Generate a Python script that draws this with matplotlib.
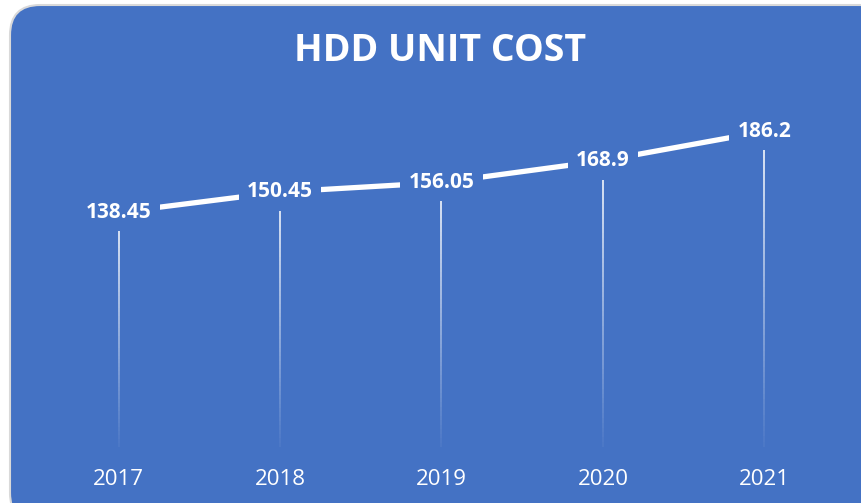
import numpy as np
import matplotlib.pyplot as plt
from matplotlib.patches import FancyBboxPatch
from matplotlib.collections import LineCollection

years = ['2017', '2018', '2019', '2020', '2021']
cost = [138.45, 150.45, 156.05, 168.9, 186.2]
value_labels = ['138.45', '150.45', '156.05', '168.9', '186.2']

blue = '#4472C4'

fig = plt.figure(figsize=(8.62, 5.03), dpi=100)
fig.patch.set_facecolor('white')

# fundo azul arredondado
W, H = 862, 503
bg = FancyBboxPatch((10 / W, -20 / H), 880 / W, (H - 5 + 20) / H,
                    boxstyle='round,pad=0,rounding_size=0.035',
                    transform=fig.transFigure, facecolor=blue,
                    edgecolor='#D9D9D9', linewidth=1.5, zorder=-5,
                    mutation_aspect=W / H)
fig.patches.append(bg)

ax = fig.add_axes([38 / W, 56 / H, (845 - 38) / W, (447 - 108) / H])
ax.set_facecolor('none')
ax.set_zorder(2)
x = np.arange(len(years))

# linhas de queda com degradê
for xi, v in zip(x, cost):
    ys = np.linspace(v, 0, 60)
    segs = [[(xi, ys[k]), (xi, ys[k + 1])] for k in range(len(ys) - 1)]
    alphas = np.linspace(1.0, 0.05, len(segs))
    cols = [(1, 1, 1, a) for a in alphas]
    ax.add_collection(LineCollection(segs, colors=cols, linewidths=1.2, zorder=1))

ax.plot(x, cost, color='white', linewidth=3.8, solid_capstyle='butt', zorder=2)

for xi, v, lab in zip(x, cost, value_labels):
    ax.text(xi, v, lab, ha='center', va='center', color='white',
            fontsize=15, fontweight='bold', family='Open Sans', zorder=3,
            bbox=dict(facecolor=blue, edgecolor='none', pad=6))

ax.set_xlim(-0.5, len(years) - 0.5)
ax.set_ylim(0, 200)
ax.set_xticks(x)
ax.set_xticklabels(years, color='white', fontsize=16, family='Open Sans')
ax.tick_params(axis='x', length=0, pad=16)
ax.set_yticks([])
for s in ax.spines.values():
    s.set_visible(False)

fig.text(440 / W, 1 - 51 / H, 'HDD UNIT COST', ha='center', va='center',
         color='white', fontsize=27, fontweight='bold', family='Open Sans')

fig.savefig('out.png', dpi=100, facecolor=fig.get_facecolor())
